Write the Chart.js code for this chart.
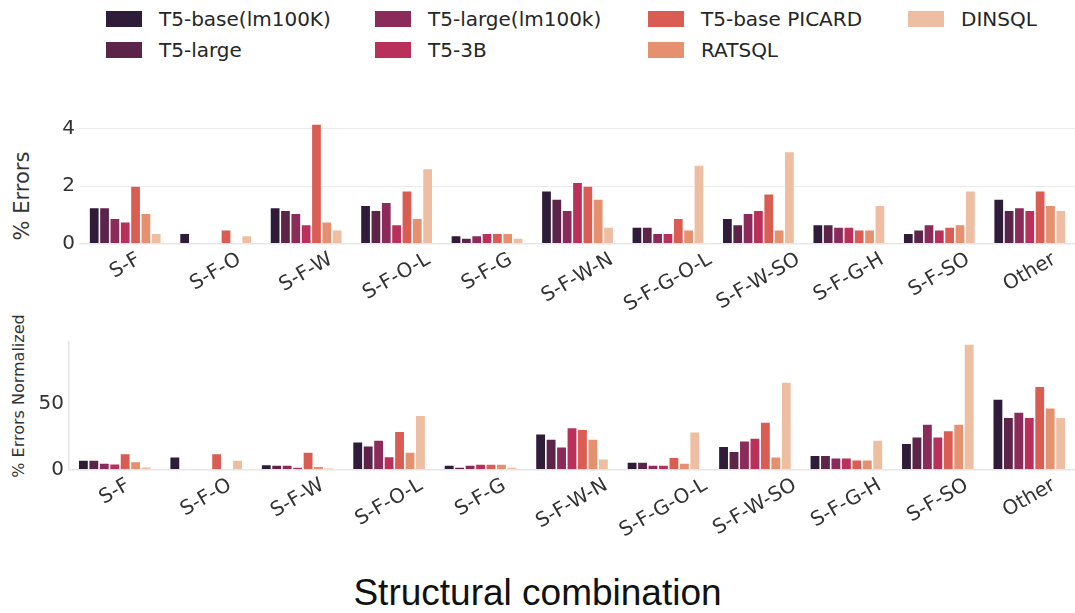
<!DOCTYPE html>
<html lang="en">
<head>
<meta charset="UTF-8" />
<title>Errors by structural combination</title>
<script src="https://cdn.jsdelivr.net/npm/chart.js"></script>
<style>
body { margin: 0; background: #fff; font-family: 'DejaVu Sans', sans-serif; }
.page { position: relative; width: 1075px; height: 613px; overflow: hidden; }
.leg-item { position: absolute; display: flex; align-items: center; height: 24px; font-size: 20px; color: #262626; white-space: nowrap; }
.leg-item .sw { width: 36px; height: 16px; margin-right: 17px; }
.ytitle { position: absolute; transform: translate(-50%, -50%) rotate(-90deg); white-space: nowrap; color: #333; }
.xtitle { position: absolute; left: 0; width: 1075px; top: 573px; line-height: 40px; text-align: center; font-family: 'Liberation Sans', Arial, sans-serif; font-size: 37px; color: #111; }
.wrap { position: absolute; left: 0; width: 1075px; height: 230px; }
</style>
</head>
<body>
<div class="page">
    <div id="legend"></div>
    <div class="ytitle" style="left:22px; top:196px; font-size:21px;">% Errors</div>
    <div class="ytitle" style="left:18px; top:396px; font-size:16px;">% Errors Normalized</div>
    <div class="wrap" style="top:100px;"><canvas id="topChart"></canvas></div>
    <div class="wrap" style="top:320px;"><canvas id="botChart"></canvas></div>
    <div class="xtitle">Structural combination</div>
</div>

<script>
const categories = ['S-F', 'S-F-O', 'S-F-W', 'S-F-O-L', 'S-F-G', 'S-F-W-N', 'S-F-G-O-L', 'S-F-W-SO', 'S-F-G-H', 'S-F-SO', 'Other'];
const seriesNames = ['T5-base(lm100K)', 'T5-large', 'T5-large(lm100k)', 'T5-3B', 'T5-base PICARD', 'RATSQL', 'DINSQL'];
const seriesColors = ['#2e1c38', '#5c2449', '#8a2b59', '#b9305a', '#da5d53', '#e5916f', '#eebea2'];

// % Errors (top panel)
const errT5Base     = [1.25, 0.36, 1.25, 1.33, 0.28, 1.84, 0.58, 0.88, 0.66, 0.36, 1.55];
const errT5Large    = [1.25, 0, 1.16, 1.16, 0.19, 1.55, 0.58, 0.66, 0.66, 0.48, 1.16];
const errT5LargeLm  = [0.88, 0, 1.05, 1.44, 0.28, 1.16, 0.36, 1.05, 0.58, 0.66, 1.25];
const errT5_3B      = [0.76, 0, 0.66, 0.66, 0.36, 2.13, 0.36, 1.16, 0.58, 0.48, 1.16];
const errPicard     = [2.0, 0.48, 4.16, 1.84, 0.36, 2.0, 0.88, 1.73, 0.48, 0.58, 1.84];
const errRatsql     = [1.05, 0, 0.76, 0.88, 0.36, 1.55, 0.48, 0.48, 0.48, 0.66, 1.33];
const errDinsql     = [0.36, 0.28, 0.48, 2.61, 0.19, 0.58, 2.73, 3.2, 1.33, 1.84, 1.16];

// % Errors Normalized (bottom panel)
const normT5Base    = [7.1, 9.7, 3.8, 21.2, 3.3, 27.3, 5.6, 17.6, 10.7, 19.9, 53.8];
const normT5Large   = [7.1, 0, 3.3, 18.1, 1.8, 23.2, 5.6, 13.8, 10.7, 25.0, 39.8];
const normT5LargeLm = [4.8, 0, 3.3, 22.4, 3.3, 17.3, 3.3, 21.9, 8.9, 34.7, 43.9];
const normT5_3B     = [4.3, 0, 1.8, 9.9, 4.1, 32.1, 3.3, 24.0, 8.9, 25.0, 39.8];
const normPicard    = [12.2, 12.2, 13.3, 29.1, 4.1, 30.6, 9.2, 36.2, 7.4, 29.8, 63.5];
const normRatsql    = [6.1, 0, 2.3, 13.3, 4.1, 23.2, 4.8, 9.7, 7.4, 34.7, 47.2];
const normDinsql    = [2.0, 7.1, 1.3, 41.3, 1.8, 8.2, 28.8, 66.8, 22.4, 95.9, 39.8];

const topTicks = [0, 2, 4];
const botTicks = [0, 50];

// legend: 4 columns, filled column by column
const legendCols = [106, 375, 648, 908];
const legendRows = [7, 38];
const legend = document.getElementById('legend');
seriesNames.forEach((name, i) => {
    const item = document.createElement('div');
    item.className = 'leg-item';
    item.style.left = legendCols[Math.floor(i / 2)] + 'px';
    item.style.top = legendRows[i % 2] + 'px';
    item.innerHTML = `<span class="sw" style="background:${seriesColors[i]}"></span>${name}`;
    legend.appendChild(item);
});

// x labels rotated 30deg, centred on the tick like matplotlib
const rotatedLabels = {
    id: 'rotatedLabels',
    afterDraw(chart) {
        const ctx = chart.ctx;
        const xs = chart.scales.x;
        const a = 30 * Math.PI / 180;
        ctx.save();
        ctx.font = '20px "DejaVu Sans"';
        ctx.fillStyle = '#333';
        ctx.textAlign = 'center';
        ctx.textBaseline = 'middle';
        categories.forEach((lab, i) => {
            const w = ctx.measureText(lab).width;
            const px = xs.getPixelForValue(i);
            const py = chart.chartArea.bottom + 6 + (w * Math.sin(a) + 20 * Math.cos(a)) / 2;
            ctx.save();
            ctx.translate(px, py);
            ctx.rotate(-a);
            ctx.fillText(lab, 0, 0);
            ctx.restore();
        });
        ctx.restore();
    }
};

function makeChart(id, series, cfg) {
    return new Chart(document.getElementById(id), {
        type: 'bar',
        data: {
            labels: categories,
            datasets: series.map((d, i) => ({
                label: seriesNames[i],
                data: d,
                backgroundColor: seriesColors[i],
                borderColor: 'rgba(255,255,255,0.5)',
                borderWidth: 0.8,
                categoryPercentage: 0.8,
                barPercentage: 1.0
            }))
        },
        options: {
            responsive: true,
            maintainAspectRatio: false,
            animation: false,
            layout: { padding: { top: cfg.padTop, left: 0, right: 0, bottom: 0 } },
            plugins: { legend: { display: false }, tooltip: { enabled: false } },
            scales: {
                x: {
                    ticks: { display: false },
                    grid: { display: false },
                    border: { display: true, color: '#e6e6e6', width: 1.5 },
                    afterFit: s => { s.height = cfg.xHeight; }
                },
                y: {
                    min: 0,
                    max: cfg.yMax,
                    afterBuildTicks: s => { s.ticks = cfg.ticks.map(v => ({ value: v })); },
                    ticks: { font: { family: 'DejaVu Sans', size: 20 }, color: '#333', padding: 5 },
                    grid: { display: cfg.grid, color: '#ebebeb', drawTicks: false },
                    border: { display: cfg.leftSpine, color: '#e6e6e6', width: 1.5 },
                    afterFit: s => { s.width = cfg.yWidth; }
                }
            }
        },
        plugins: [rotatedLabels]
    });
}

makeChart('topChart',
    [errT5Base, errT5Large, errT5LargeLm, errT5_3B, errPicard, errRatsql, errDinsql],
    { padTop: 16, xHeight: 86.5, yMax: 4.4, ticks: topTicks, grid: true, leftSpine: false, yWidth: 80 });

makeChart('botChart',
    [normT5Base, normT5Large, normT5LargeLm, normT5_3B, normPicard, normRatsql, normDinsql],
    { padTop: 21.7, xHeight: 80.7, yMax: 97.6, ticks: botTicks, grid: false, leftSpine: true, yWidth: 69 });
</script>
</body>
</html>
